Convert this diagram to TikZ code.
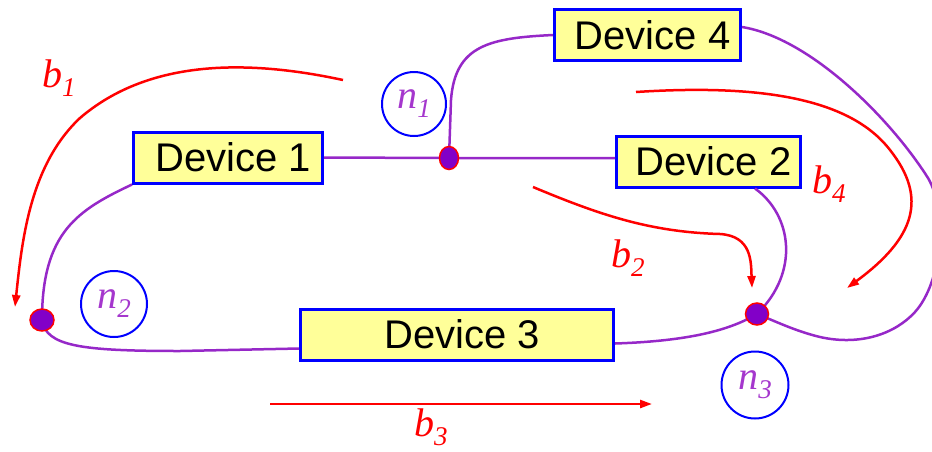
\documentclass[tikz,border=0pt]{standalone}
\usepackage{fontspec}
\setmainfont{Liberation Sans}
\newfontfamily\tms{Liberation Serif}
\usetikzlibrary{arrows.meta,shapes.geometric}
\definecolor{wire}{RGB}{150,40,200}
\definecolor{dotfill}{RGB}{130,0,200}
\definecolor{boxfill}{RGB}{255,255,153}
\definecolor{lblpurple}{RGB}{165,55,205}
\definecolor{flow}{RGB}{255,0,0}
% italic variable with a lowered index
\newcommand\varlbl[2]{{\tms\itshape\fontsize{40}{40}\selectfont #1\raisebox{-9pt}{\fontsize{27}{27}\selectfont #2}}}

\begin{document}
\begin{tikzpicture}[x=1pt,y=-1pt,
  device/.style={draw=blue,line width=3pt,fill=boxfill,minimum height=51pt,
                 inner sep=0pt,font=\fontsize{40}{40}\selectfont},
  wirepath/.style={draw=wire,line width=2.5pt},
  flowpath/.style={draw=flow,line width=2.5pt,-{Triangle[length=12pt,width=8pt]}},
  junction/.style={ellipse,draw=red,line width=1.5pt,fill=dotfill,inner sep=0pt},
  nodering/.style={circle,draw=blue,line width=2pt,minimum size=64pt,inner sep=0pt,
                   text=lblpurple},
  flowlabel/.style={anchor=base west,text=flow,inner sep=0pt},
]
\useasboundingbox (0,0) rectangle (932,451);

% devices
\node[device,minimum width=189pt] (D1) at (228,157.5) {\hspace{10pt}Device 1};
\node[device,minimum width=184pt] (D2) at (708.5,161.5) {\hspace{10pt}Device 2};
\node[device,minimum width=313pt] (D3) at (457,334.5) {\hspace{10pt}Device 3};
\node[device,minimum width=186pt,minimum height=51pt] (D4) at (647.5,35) {\hspace{10pt}Device 4};

% junction positions
\coordinate (j1) at (449,158);
\coordinate (j2) at (42,320);
\coordinate (j3) at (757,314);

% wiring
\draw[wirepath] (D1.east) -- (j1) -- (j1 -| D2.west);
\draw[wirepath] (j1) -- (451,100) .. controls (455,45) and (490,38) .. (D4.west);
\draw[wirepath] ([yshift=8pt]D4.east) .. controls (810,38) and (890,118) .. (928,178)
      .. controls (948,212) and (942,282) .. (915,312)
      .. controls (895,334) and (860,346) .. (820,337) .. controls (795,331) and (775,321) .. (j3);
\draw[wirepath] ([xshift=-47pt]D2.south east) .. controls (792,215) and (800,272) .. (j3);
\draw[wirepath] ([yshift=-9pt]D3.east) .. controls (690,341) and (730,330) .. (j3);
\draw[wirepath] (D1.south west) .. controls (78,210) and (42,232) .. (j2);
\draw[wirepath] (j2) .. controls (46,346) and (80,351) .. (180,351) -- ([yshift=-14pt]D3.west);

% junction dots
\node[junction,minimum width=19pt,minimum height=23pt] (J1) at (j1) {};
\node[junction,minimum width=24pt,minimum height=22pt] (J2) at (j2) {};
\node[junction,minimum width=23pt,minimum height=22pt] (J3) at (j3) {};

% node labels
\node[nodering] (n1) at (414,104) {\varlbl{n}{1}};
\node[nodering,minimum size=66pt] (n2) at (114,304) {\varlbl{n}{2}};
\node[nodering,minimum size=67pt] (n3) at (755,385) {\varlbl{n}{3}};

% branch flows
\coordinate (b1s) at (343,80);
\coordinate (b1e) at (15,307);
\draw[flowpath] (b1s) .. controls (250,60) and (150,58) .. (80,118)
      .. controls (30,165) and (22,240) .. (b1e);
\coordinate (b2s) at (533,187);
\coordinate (b2e) at (752,288);
\draw[flowpath] (b2s) .. controls (600,215) and (650,232) .. (720,234)
      .. controls (752,236) and (751,262) .. (b2e);
\coordinate (b3s) at (270,404);
\coordinate (b3e) at (652,404);
\draw[flowpath] (b3s) -- (b3e);
\coordinate (b4s) at (636,92);
\coordinate (b4e) at (847,288);
\draw[flowpath] (b4s) .. controls (760,84) and (850,98) .. (890,150)
      .. controls (928,198) and (915,238) .. (b4e);

\node[flowlabel] (lb1) at (42,87) {\varlbl{b}{1}};
\node[flowlabel] (lb2) at (611,267) {\varlbl{b}{2}};
\node[flowlabel] (lb3) at (414,436) {\varlbl{b}{3}};
\node[flowlabel] (lb4) at (812,193) {\varlbl{b}{4}};
\end{tikzpicture}
\end{document}
